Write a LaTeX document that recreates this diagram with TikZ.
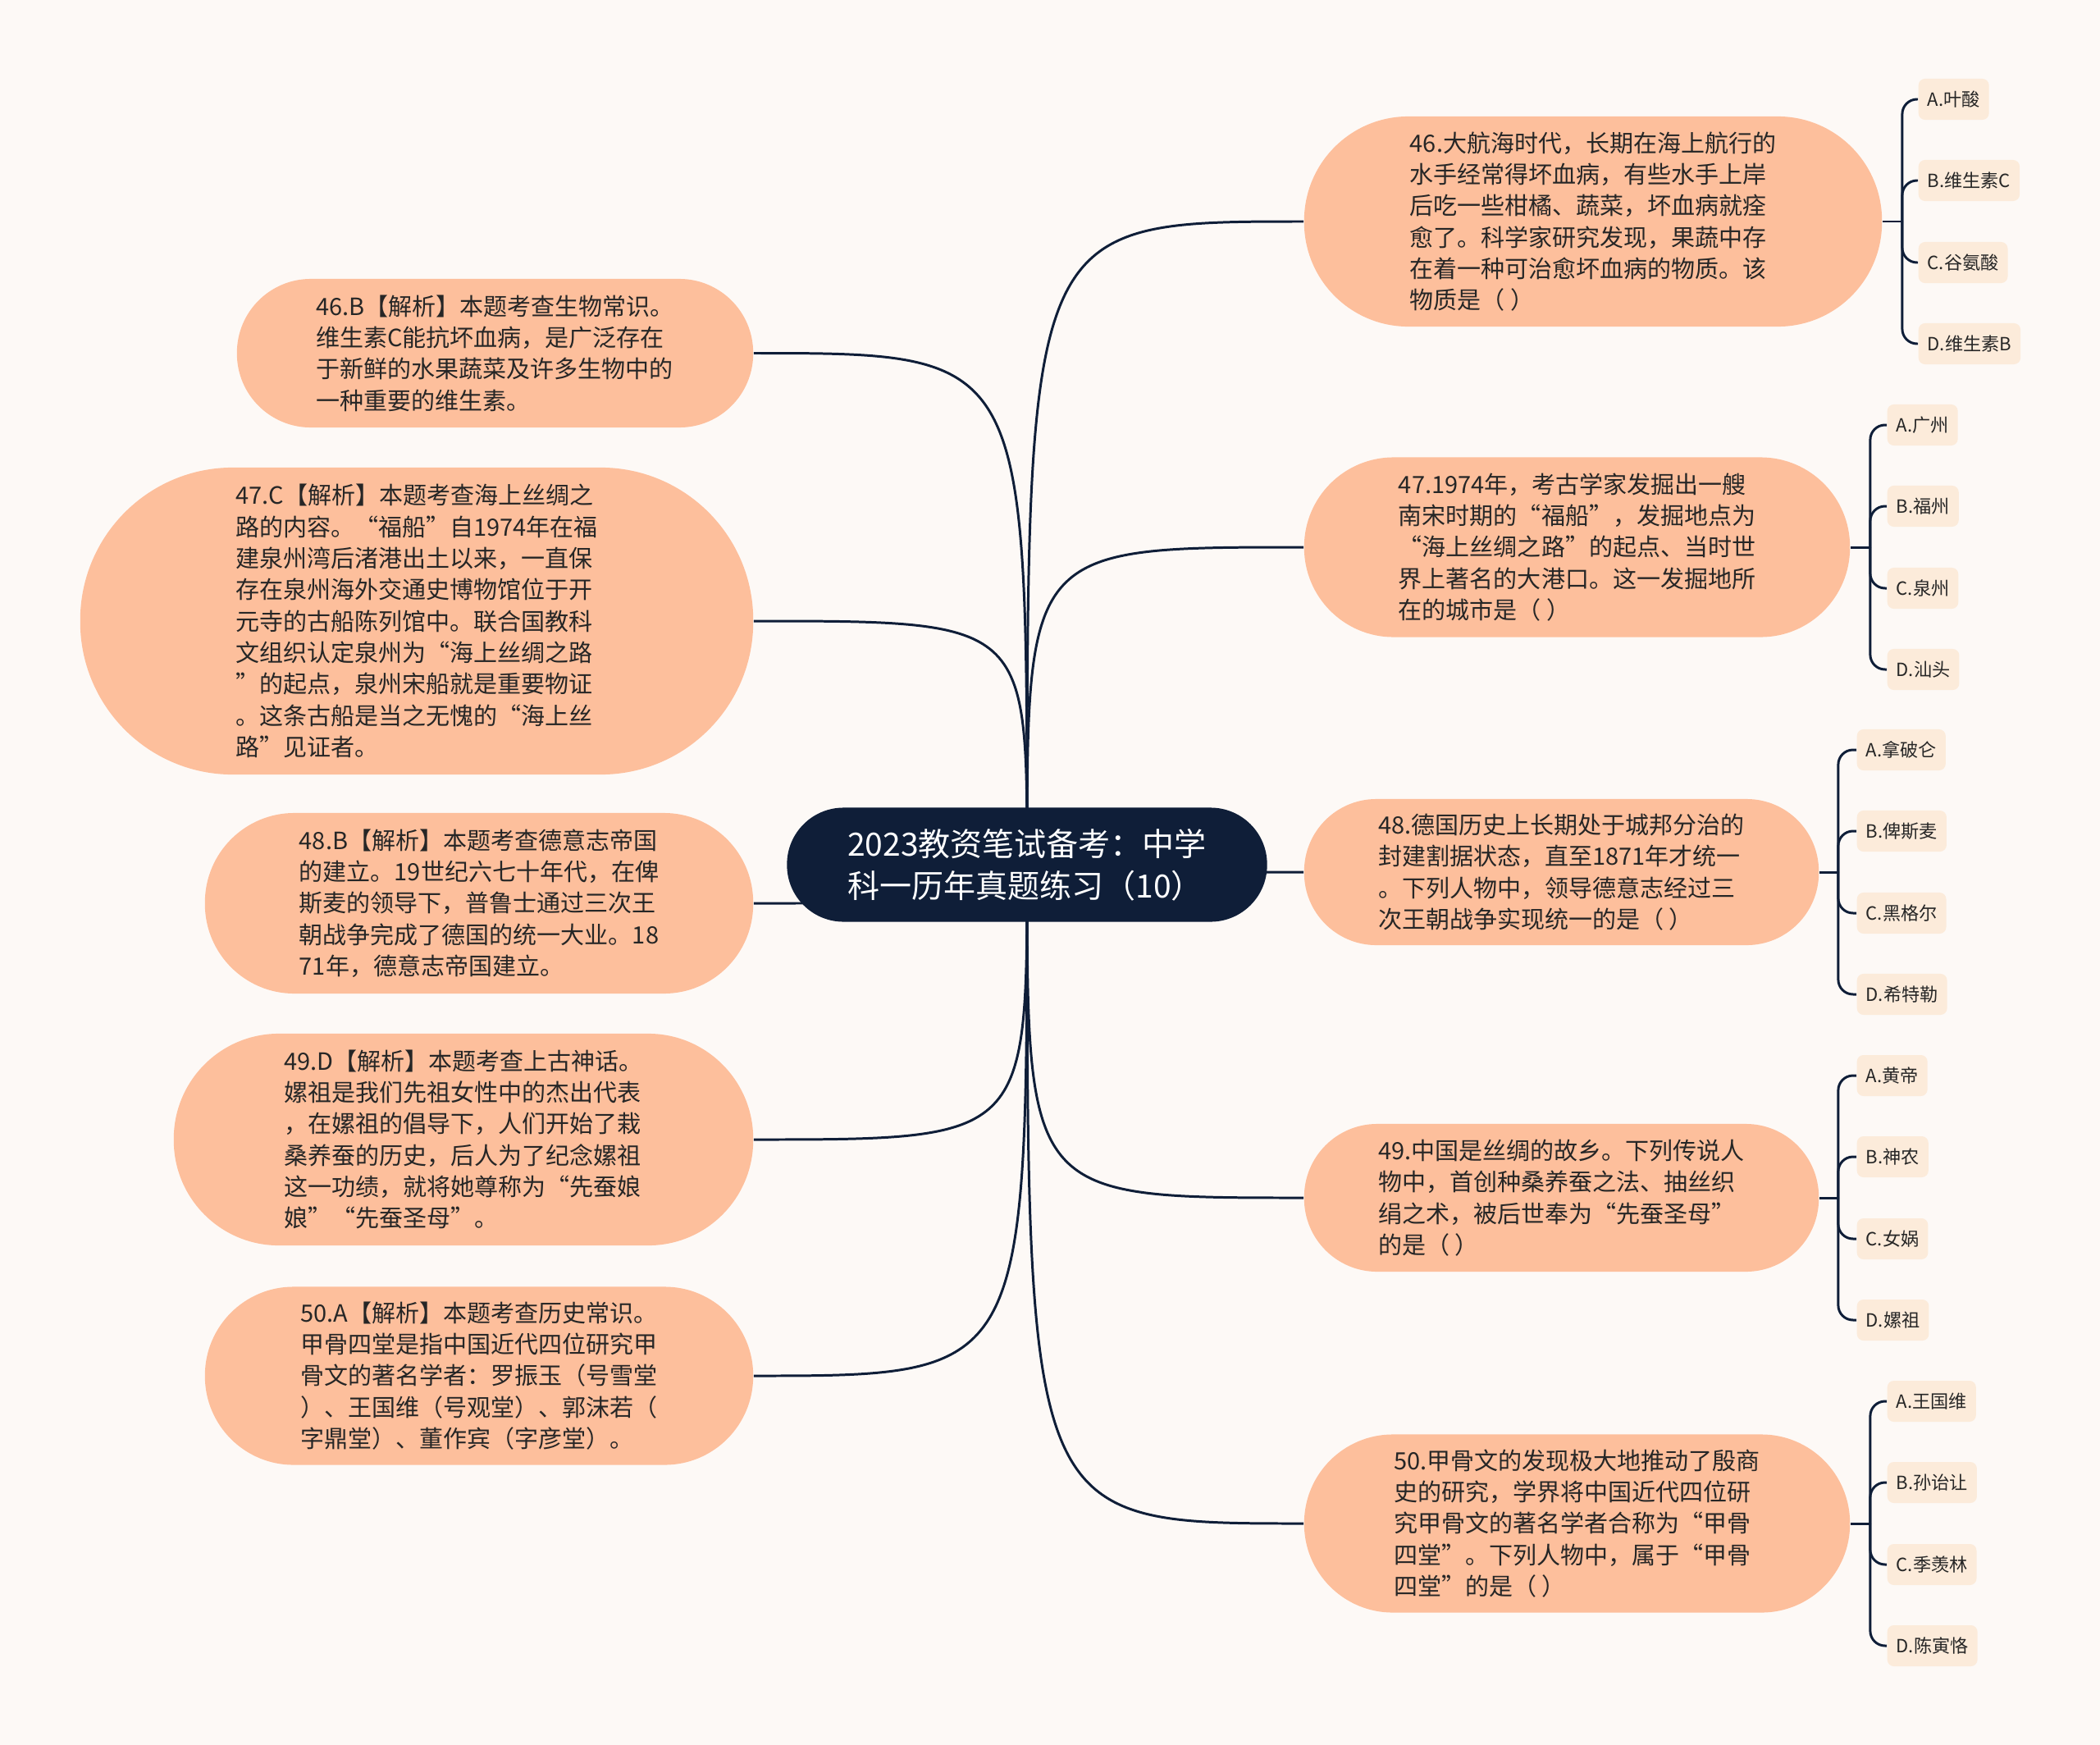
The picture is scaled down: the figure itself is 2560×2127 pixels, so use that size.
\documentclass[tikz,border=0pt]{standalone}
\usepackage{fontspec}
\setmainfont{Noto Sans CJK SC}
\usetikzlibrary{calc}
\definecolor{bgc}{HTML}{FDF9F6}
\definecolor{rootc}{HTML}{0F1E38}
\definecolor{topicc}{HTML}{FDBF9C}
\definecolor{leafc}{HTML}{FCEBDA}
\definecolor{linec}{HTML}{0F1E38}
\definecolor{txtc}{HTML}{262626}
\pgfdeclarelayer{back}
\pgfdeclarelayer{bg}
\pgfsetlayers{back,bg,main}
\begin{document}
\begin{tikzpicture}[x=0.01cm,y=-0.01cm,
  root/.style={fill=rootc,text=white,font=\fontsize{11.1pt}{14.5pt}\selectfont,align=left,inner sep=0pt,minimum width=5.85cm,minimum height=1.39cm,rounded corners=0.69cm},
  topic/.style={fill=topicc,text=txtc,font=\fontsize{8.25pt}{10.9pt}\selectfont,align=left,inner sep=0pt},
  leaf/.style={fill=leafc,text=txtc,font=\fontsize{6.3pt}{7.5pt}\selectfont,inner xsep=0.11cm,inner ysep=0pt,minimum height=0.5cm,rounded corners=0.08cm,anchor=west},
  conn/.style={draw=linec,line width=0.85pt},
  sub/.style={draw=linec,line width=0.85pt,rounded corners=0.18cm}]
\begin{pgfonlayer}{back}
\path[use as bounding box,fill=bgc] (0,0) rectangle (2560,2127);
\end{pgfonlayer}

\node[root] (root) at (1252,1054) {2023教资笔试备考：中学\\科一历年真题练习（10）};

% left topics
\node[topic,minimum width=6.29cm,minimum height=1.81cm,rounded corners=0.90cm] (L1) at (603.5,430.5) {46.B【解析】本题考查生物常识。\\维生素C能抗坏血病，是广泛存在\\于新鲜的水果蔬菜及许多生物中的\\一种重要的维生素。};
\node[topic,minimum width=8.20cm,minimum height=3.74cm,rounded corners=1.86cm] (L2) at (508,757) {47.C【解析】本题考查海上丝绸之\\路的内容。“福船”自1974年在福\\建泉州湾后渚港出土以来，一直保\\存在泉州海外交通史博物馆位于开\\元寺的古船陈列馆中。联合国教科\\文组织认定泉州为“海上丝绸之路\\”的起点，泉州宋船就是重要物证\\。这条古船是当之无愧的“海上丝\\路”见证者。};
\node[topic,minimum width=6.68cm,minimum height=2.20cm,rounded corners=1.09cm] (L3) at (584,1101) {48.B【解析】本题考查德意志帝国\\的建立。19世纪六七十年代，在俾\\斯麦的领导下，普鲁士通过三次王\\朝战争完成了德国的统一大业。18\\71年，德意志帝国建立。};
\node[topic,minimum width=7.06cm,minimum height=2.58cm,rounded corners=1.28cm] (L4) at (565,1389) {49.D【解析】本题考查上古神话。\\嫘祖是我们先祖女性中的杰出代表\\，在嫘祖的倡导下，人们开始了栽\\桑养蚕的历史，后人为了纪念嫘祖\\这一功绩，就将她尊称为“先蚕娘\\娘”“先蚕圣母”。};
\node[topic,minimum width=6.68cm,minimum height=2.17cm,rounded corners=1.08cm] (L5) at (584,1677) {50.A【解析】本题考查历史常识。\\甲骨四堂是指中国近代四位研究甲\\骨文的著名学者：罗振玉（号雪堂\\）、王国维（号观堂）、郭沫若（\\字鼎堂）、董作宾（字彦堂）。};

% right topics
\node[topic,minimum width=7.04cm,minimum height=2.56cm,rounded corners=1.27cm] (R1) at (1942,270) {46.大航海时代，长期在海上航行的\\水手经常得坏血病，有些水手上岸\\后吃一些柑橘、蔬菜，坏血病就痊\\愈了。科学家研究发现，果蔬中存\\在着一种可治愈坏血病的物质。该\\物质是（ ）};
\node[topic,minimum width=6.65cm,minimum height=2.19cm,rounded corners=1.09cm] (R2) at (1922.5,667) {47.1974年，考古学家发掘出一艘\\南宋时期的“福船”，发掘地点为\\“海上丝绸之路”的起点、当时世\\界上著名的大港口。这一发掘地所\\在的城市是（ ）};
\node[topic,minimum width=6.27cm,minimum height=1.78cm,rounded corners=0.88cm] (R3) at (1903.5,1063) {48.德国历史上长期处于城邦分治的\\封建割据状态，直至1871年才统一\\。下列人物中，领导德意志经过三\\次王朝战争实现统一的是（ ）};
\node[topic,minimum width=6.27cm,minimum height=1.80cm,rounded corners=0.89cm] (R4) at (1903.5,1460) {49.中国是丝绸的故乡。下列传说人\\物中，首创种桑养蚕之法、抽丝织\\绢之术，被后世奉为“先蚕圣母”\\的是（ ）};
\node[topic,minimum width=6.65cm,minimum height=2.17cm,rounded corners=1.08cm] (R5) at (1922.5,1857) {50.甲骨文的发现极大地推动了殷商\\史的研究，学界将中国近代四位研\\究甲骨文的著名学者合称为“甲骨\\四堂”。下列人物中，属于“甲骨\\四堂”的是（ ）};

% hubs
\coordinate (h1) at ($(R1.east)+(24,0)$);
\coordinate (h2) at ($(R2.east)+(24,0)$);
\coordinate (h3) at ($(R3.east)+(23,0)$);
\coordinate (h4) at ($(R4.east)+(23,0)$);
\coordinate (h5) at ($(R5.east)+(24,0)$);

% leaves
\node[leaf] (r1a) at (2338,121) {A.叶酸};
\node[leaf] (r1b) at (2338,220) {B.维生素C};
\node[leaf] (r1c) at (2338,320) {C.谷氨酸};
\node[leaf] (r1d) at (2338,419) {D.维生素B};

\node[leaf] (r2a) at (2300,518) {A.广州};
\node[leaf] (r2b) at (2300,617) {B.福州};
\node[leaf] (r2c) at (2300,717) {C.泉州};
\node[leaf] (r2d) at (2300,816) {D.汕头};

\node[leaf] (r3a) at (2263,914) {A.拿破仑};
\node[leaf] (r3b) at (2263,1013) {B.俾斯麦};
\node[leaf] (r3c) at (2263,1113) {C.黑格尔};
\node[leaf] (r3d) at (2263,1212) {D.希特勒};

\node[leaf] (r4a) at (2263,1311) {A.黄帝};
\node[leaf] (r4b) at (2263,1410) {B.神农};
\node[leaf] (r4c) at (2263,1510) {C.女娲};
\node[leaf] (r4d) at (2263,1609) {D.嫘祖};

\node[leaf] (r5a) at (2300,1708) {A.王国维};
\node[leaf] (r5b) at (2300,1807) {B.孙诒让};
\node[leaf] (r5c) at (2300,1907) {C.季羡林};
\node[leaf] (r5d) at (2300,2006) {D.陈寅恪};

\begin{pgfonlayer}{bg}
\foreach \t in {R1,R2,R3,R4,R5}{
  \draw[conn] (root.center) .. controls (root.center |- \t.west) and (root.center |- \t.west) .. (\t.west);
}
\foreach \t in {L1,L2,L3,L4,L5}{
  \draw[conn] (root.center) .. controls (root.center |- \t.east) and (root.center |- \t.east) .. (\t.east);
}
\draw[conn] (R1.east) -- (h1);
\draw[conn] (R2.east) -- (h2);
\draw[conn] (R3.east) -- (h3);
\draw[conn] (R4.east) -- (h4);
\draw[conn] (R5.east) -- (h5);
\foreach \l in {r1a,r1b,r1c,r1d}{\draw[sub] (h1) |- (\l.west);}
\foreach \l in {r2a,r2b,r2c,r2d}{\draw[sub] (h2) |- (\l.west);}
\foreach \l in {r3a,r3b,r3c,r3d}{\draw[sub] (h3) |- (\l.west);}
\foreach \l in {r4a,r4b,r4c,r4d}{\draw[sub] (h4) |- (\l.west);}
\foreach \l in {r5a,r5b,r5c,r5d}{\draw[sub] (h5) |- (\l.west);}
\end{pgfonlayer}
\end{tikzpicture}
\end{document}
